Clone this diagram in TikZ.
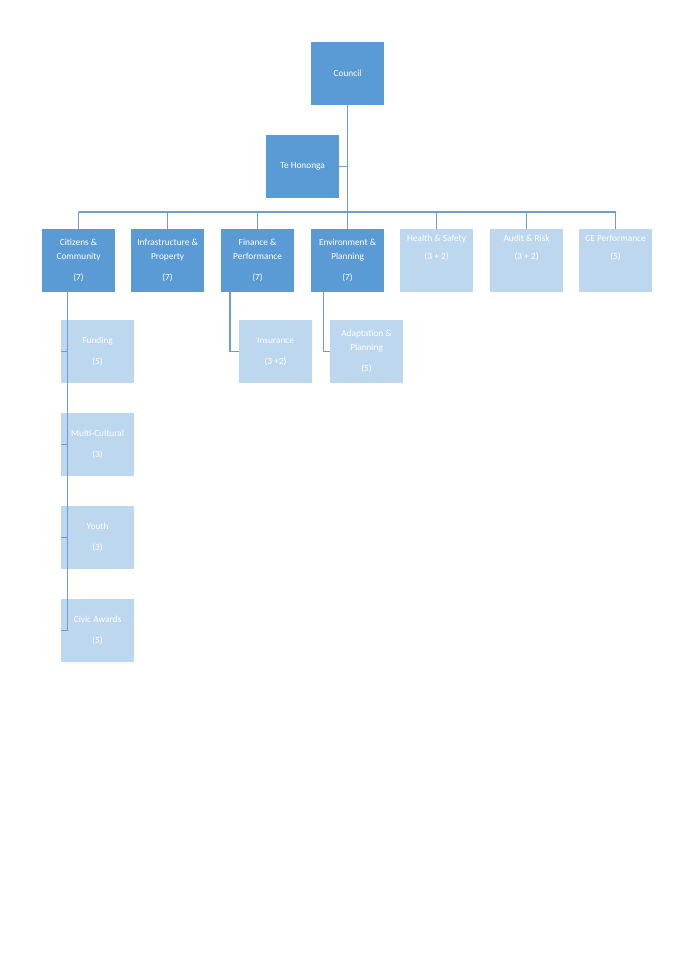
\documentclass[tikz,border=0pt]{standalone}
\usepackage{fontspec}
\setmainfont{Carlito}
\definecolor{darkbox}{HTML}{5B9BD5}
\definecolor{lightbox}{HTML}{BDD7EE}
\definecolor{linkcol}{HTML}{6D9ECF}
\tikzset{
  box/.style={minimum width=54.5pt, minimum height=47pt, inner sep=1pt, anchor=north west,
    text=white, font=\fontsize{7}{10}\selectfont, align=center},
  mainbox/.style={box, fill=darkbox},
  subbox/.style={box, fill=lightbox},
  link/.style={draw=linkcol, line width=1.2pt}
}
\begin{document}
\begin{tikzpicture}[x=0.75pt,y=-0.75pt]
\useasboundingbox (0,0) rectangle (675,955);
  % top of the chart
  \node[mainbox] (council) at (311,42) {Council};
  \node[mainbox] (hononga) at (266,135) {Te Hononga};
  % committees
  \node[mainbox] (citizens) at (42,229) {Citizens \&\\Community\\[6pt](7)};
  \node[mainbox] (infra) at (131,229) {Infrastructure \&\\Property\\[6pt](7)};
  \node[mainbox] (finance) at (221,229) {Finance \&\\Performance\\[6pt](7)};
  \node[mainbox] (environ) at (311,229) {Environment \&\\Planning\\[6pt](7)};
  \node[subbox] (health) at (400,229) {Health \& Safety\\[4pt](3 + 2)\\[10pt]};
  \node[subbox] (audit) at (490,229) {Audit \& Risk\\[4pt](3 + 2)\\[10pt]};
  \node[subbox] (ceperf) at (579,229) {CE Performance\\[4pt](5)\\[10pt]};
  % sub-committees
  \node[subbox] (funding) at (61,320) {Funding\\[6pt](5)};
  \node[subbox] (multi) at (61,413) {Multi-Cultural\\[6pt](3)};
  \node[subbox] (youth) at (61,506) {Youth\\[6pt](3)};
  \node[subbox] (civic) at (61,599) {Civic Awards\\[6pt](5)};
  \node[subbox] (insure) at (239,320) {Insurance\\[6pt](3 +2)};
  \node[subbox] (adapt) at (330,320) {Adaptation \&\\Planning\\[6pt](5)};
  % connectors
  \coordinate (bus) at (council.south |- 0,212);
  \draw[link] (council.south) -- (bus);
  \draw[link] (hononga.east) -- (hononga.east -| council.south);
  \draw[link] (citizens.north |- bus) -- (ceperf.north |- bus);
  \foreach \n in {citizens,infra,finance,environ,health,audit,ceperf}
    \draw[link] (\n.north |- bus) -- (\n.north);
  \foreach \n in {funding,multi,youth,civic}
    \draw[link] ([xshift=-8.25pt]citizens.south) |- (\n.west);
  \draw[link] (finance.south) ++(-20.5pt,0) |- (insure.west);
  \draw[link] (environ.south) ++(-18pt,0) |- (adapt.west);
\end{tikzpicture}
\end{document}
